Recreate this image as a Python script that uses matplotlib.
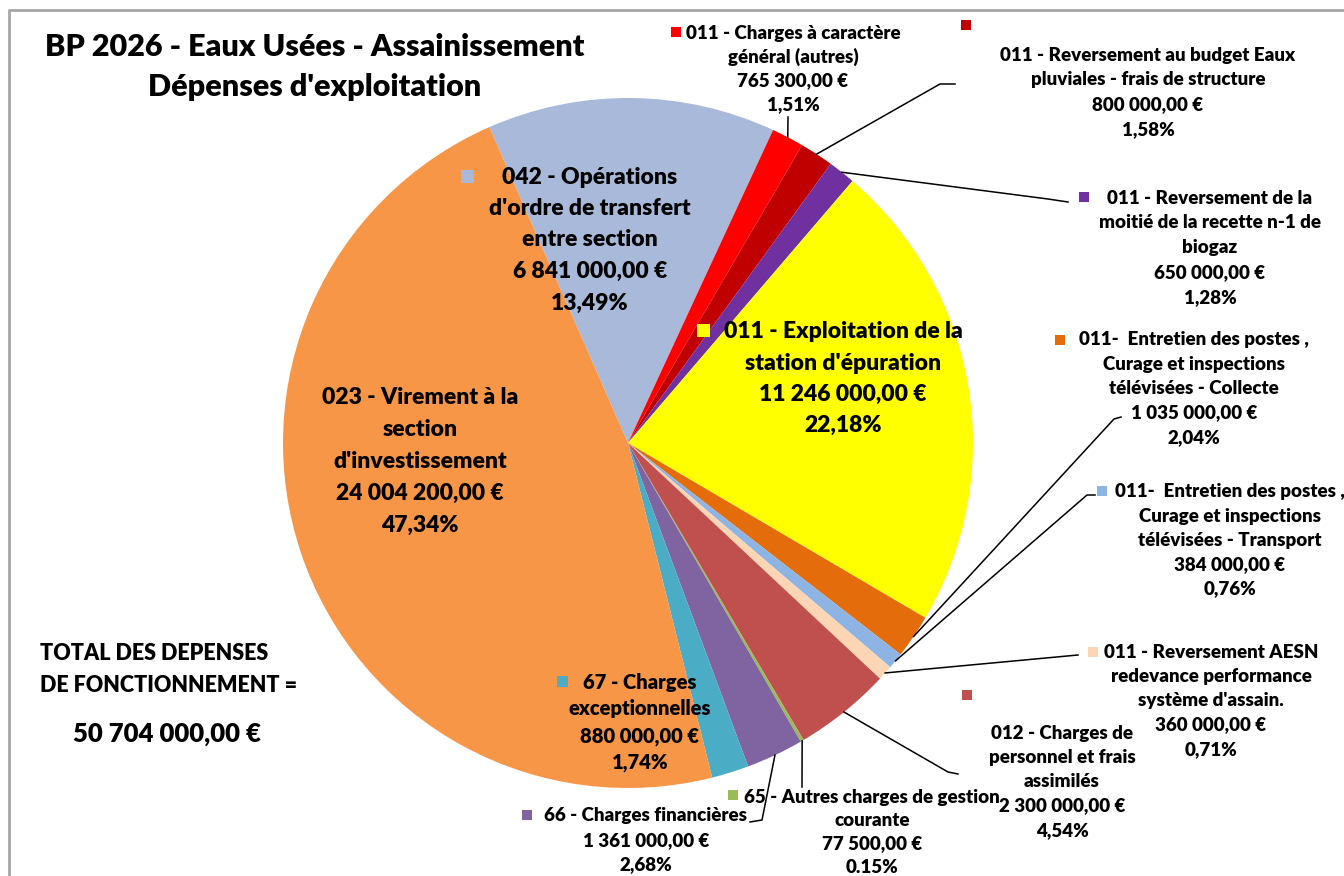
import numpy as np
import matplotlib
matplotlib.use("Agg")
import matplotlib.pyplot as plt
from matplotlib.patches import Rectangle

plt.rcParams['font.family'] = ['Lato', 'DejaVu Sans']

# Données du BP 2026 - Eaux usées (dans l'ordre des secteurs, sens horaire)
noms = [
    ["042 - Opérations", "d'ordre de transfert", "entre section"],
    ["011 - Charges à caractère", "général (autres)"],
    ["011 - Reversement au budget Eaux", "pluviales - frais de structure"],
    ["011 - Reversement de la", "moitié de la recette n-1 de", "biogaz"],
    ["011 - Exploitation de la", "station d'épuration"],
    ["011-  Entretien des postes ,", "Curage et inspections", "télévisées - Collecte"],
    ["011-  Entretien des postes ,", "Curage et inspections", "télévisées - Transport"],
    ["011 - Reversement AESN", "redevance performance", "système d'assain."],
    ["012 - Charges de", "personnel et frais", "assimilés"],
    ["65 - Autres charges de gestion", "courante"],
    ["66 - Charges financières"],
    ["67 - Charges", "exceptionnelles"],
    ["023 - Virement à la", "section", "d'investissement"],
]
valeurs = [6841000, 765300, 800000, 650000, 11246000, 1035000, 384000,
           360000, 2300000, 77500, 1361000, 880000, 24004200]
couleurs = ['#A9B9D9', '#FF0000', '#C00000', '#7030A0', '#FFFF00', '#E46C0A',
            '#8DB4E2', '#FCD5B5', '#C0504D', '#9BBB59', '#8064A2', '#4BACC6',
            '#F79646']
sep_pct = [',', ',', ',', ',', ',', ',', ',', ',', ',', '.', ',', ',', ',']

titre = ["BP 2026 - Eaux Usées - Assainissement", "Dépenses d'exploitation"]
total_txt = ["TOTAL DES DEPENSES", "DE FONCTIONNEMENT ="]

total = sum(valeurs)


def euros(v):
    return '{:,.2f}'.format(v).replace(',', ' ').replace('.', ',') + ' €'


# mise en page des étiquettes (pixels) : centre x, y 1re ligne, interligne, taille, carré
disp = [
    (590, 177, 31.5, 16.5, (467, 176), 13),
    (793, 33, 24, 13.5, (676, 32), 10),
    (1148, 55, 24.7, 13.5, (966, 25), 10),
    (1210, 198, 24.8, 13.5, (1084, 197), 10),
    (843, 332, 31, 16.5, (703, 330), 13),
    (1194, 340, 24.3, 13.5, (1060, 340), 10),
    (1230, 492, 24.2, 13.5, (1102, 491), 10),
    (1211, 652, 24.3, 13.5, (1093, 652), 10),
    (1062, 733, 24.3, 13.5, (967, 695), 10),
    (872, 797, 23.5, 13.5, (733, 795), 10),
    (646, 816, 24.5, 13.5, (527, 815), 10),
    (640, 682, 27, 14.5, (562, 681), 11),
    (420, 397, 32, 16.5, None, 0),
]
# lignes de rappel (points côté étiquette)
rappels = [None, [(788, 117)], [(940, 84), (955, 84)], [(1048, 199), (1068, 202)],
           None, [(1114, 419), (1121, 417)], [(1087, 495), (1095, 495)],
           [(1078, 655)], [(948, 772), (958, 774)], [(802, 787)],
           [(762, 820), (750, 822)], None, None]

W, H = 1344, 876
fig = plt.figure(figsize=(W / 100, H / 100), dpi=100)
ax = fig.add_axes([0, 0, 1, 1])

cx, cy, R = 628, 443, 345
wedges, _ = ax.pie(valeurs, colors=couleurs, startangle=-113.7, counterclock=True,
                   center=(cx, cy), radius=R, wedgeprops=dict(linewidth=0))
ax.set_xlim(0, W)
ax.set_ylim(H, 0)
ax.set_aspect('equal')
ax.axis('off')

# cadre
ax.plot([9, 9, W], [H, 10, 10], color='#A6A6A6', lw=2, solid_capstyle='butt')

for i, w in enumerate(wedges):
    x0, y0, dy, fs, carre, cs = disp[i]
    pct = '{:.2f}'.format(valeurs[i] / total * 100).replace('.', sep_pct[i]) + '%'
    lignes = noms[i] + [euros(valeurs[i]), pct]
    for k, l in enumerate(lignes):
        ax.text(x0, y0 + k * dy, l, ha='center', va='center', fontsize=fs,
                fontweight='heavy', color='black')
    if carre is not None:
        ax.add_patch(Rectangle((carre[0] - cs / 2, carre[1] - cs / 2), cs, cs,
                               color=couleurs[i], lw=0))
    if rappels[i] is not None:
        a = np.deg2rad((w.theta1 + w.theta2) / 2)
        pts = [(cx + R * np.cos(a), cy + R * np.sin(a))] + rappels[i]
        ax.plot([p[0] for p in pts], [p[1] for p in pts], color='black', lw=1.1)

ax.text(315, 47, titre[0], ha='center', va='center', fontsize=22, fontweight='heavy')
ax.text(315, 87, titre[1], ha='center', va='center', fontsize=22, fontweight='heavy')
ax.text(40, 653, total_txt[0], ha='left', va='center', fontsize=15.5, fontweight='heavy')
ax.text(40, 686, total_txt[1], ha='left', va='center', fontsize=15.5, fontweight='heavy')
ax.text(167, 734, euros(total), ha='center', va='center', fontsize=18.5, fontweight='heavy')

fig.savefig('out.png', dpi=100)
